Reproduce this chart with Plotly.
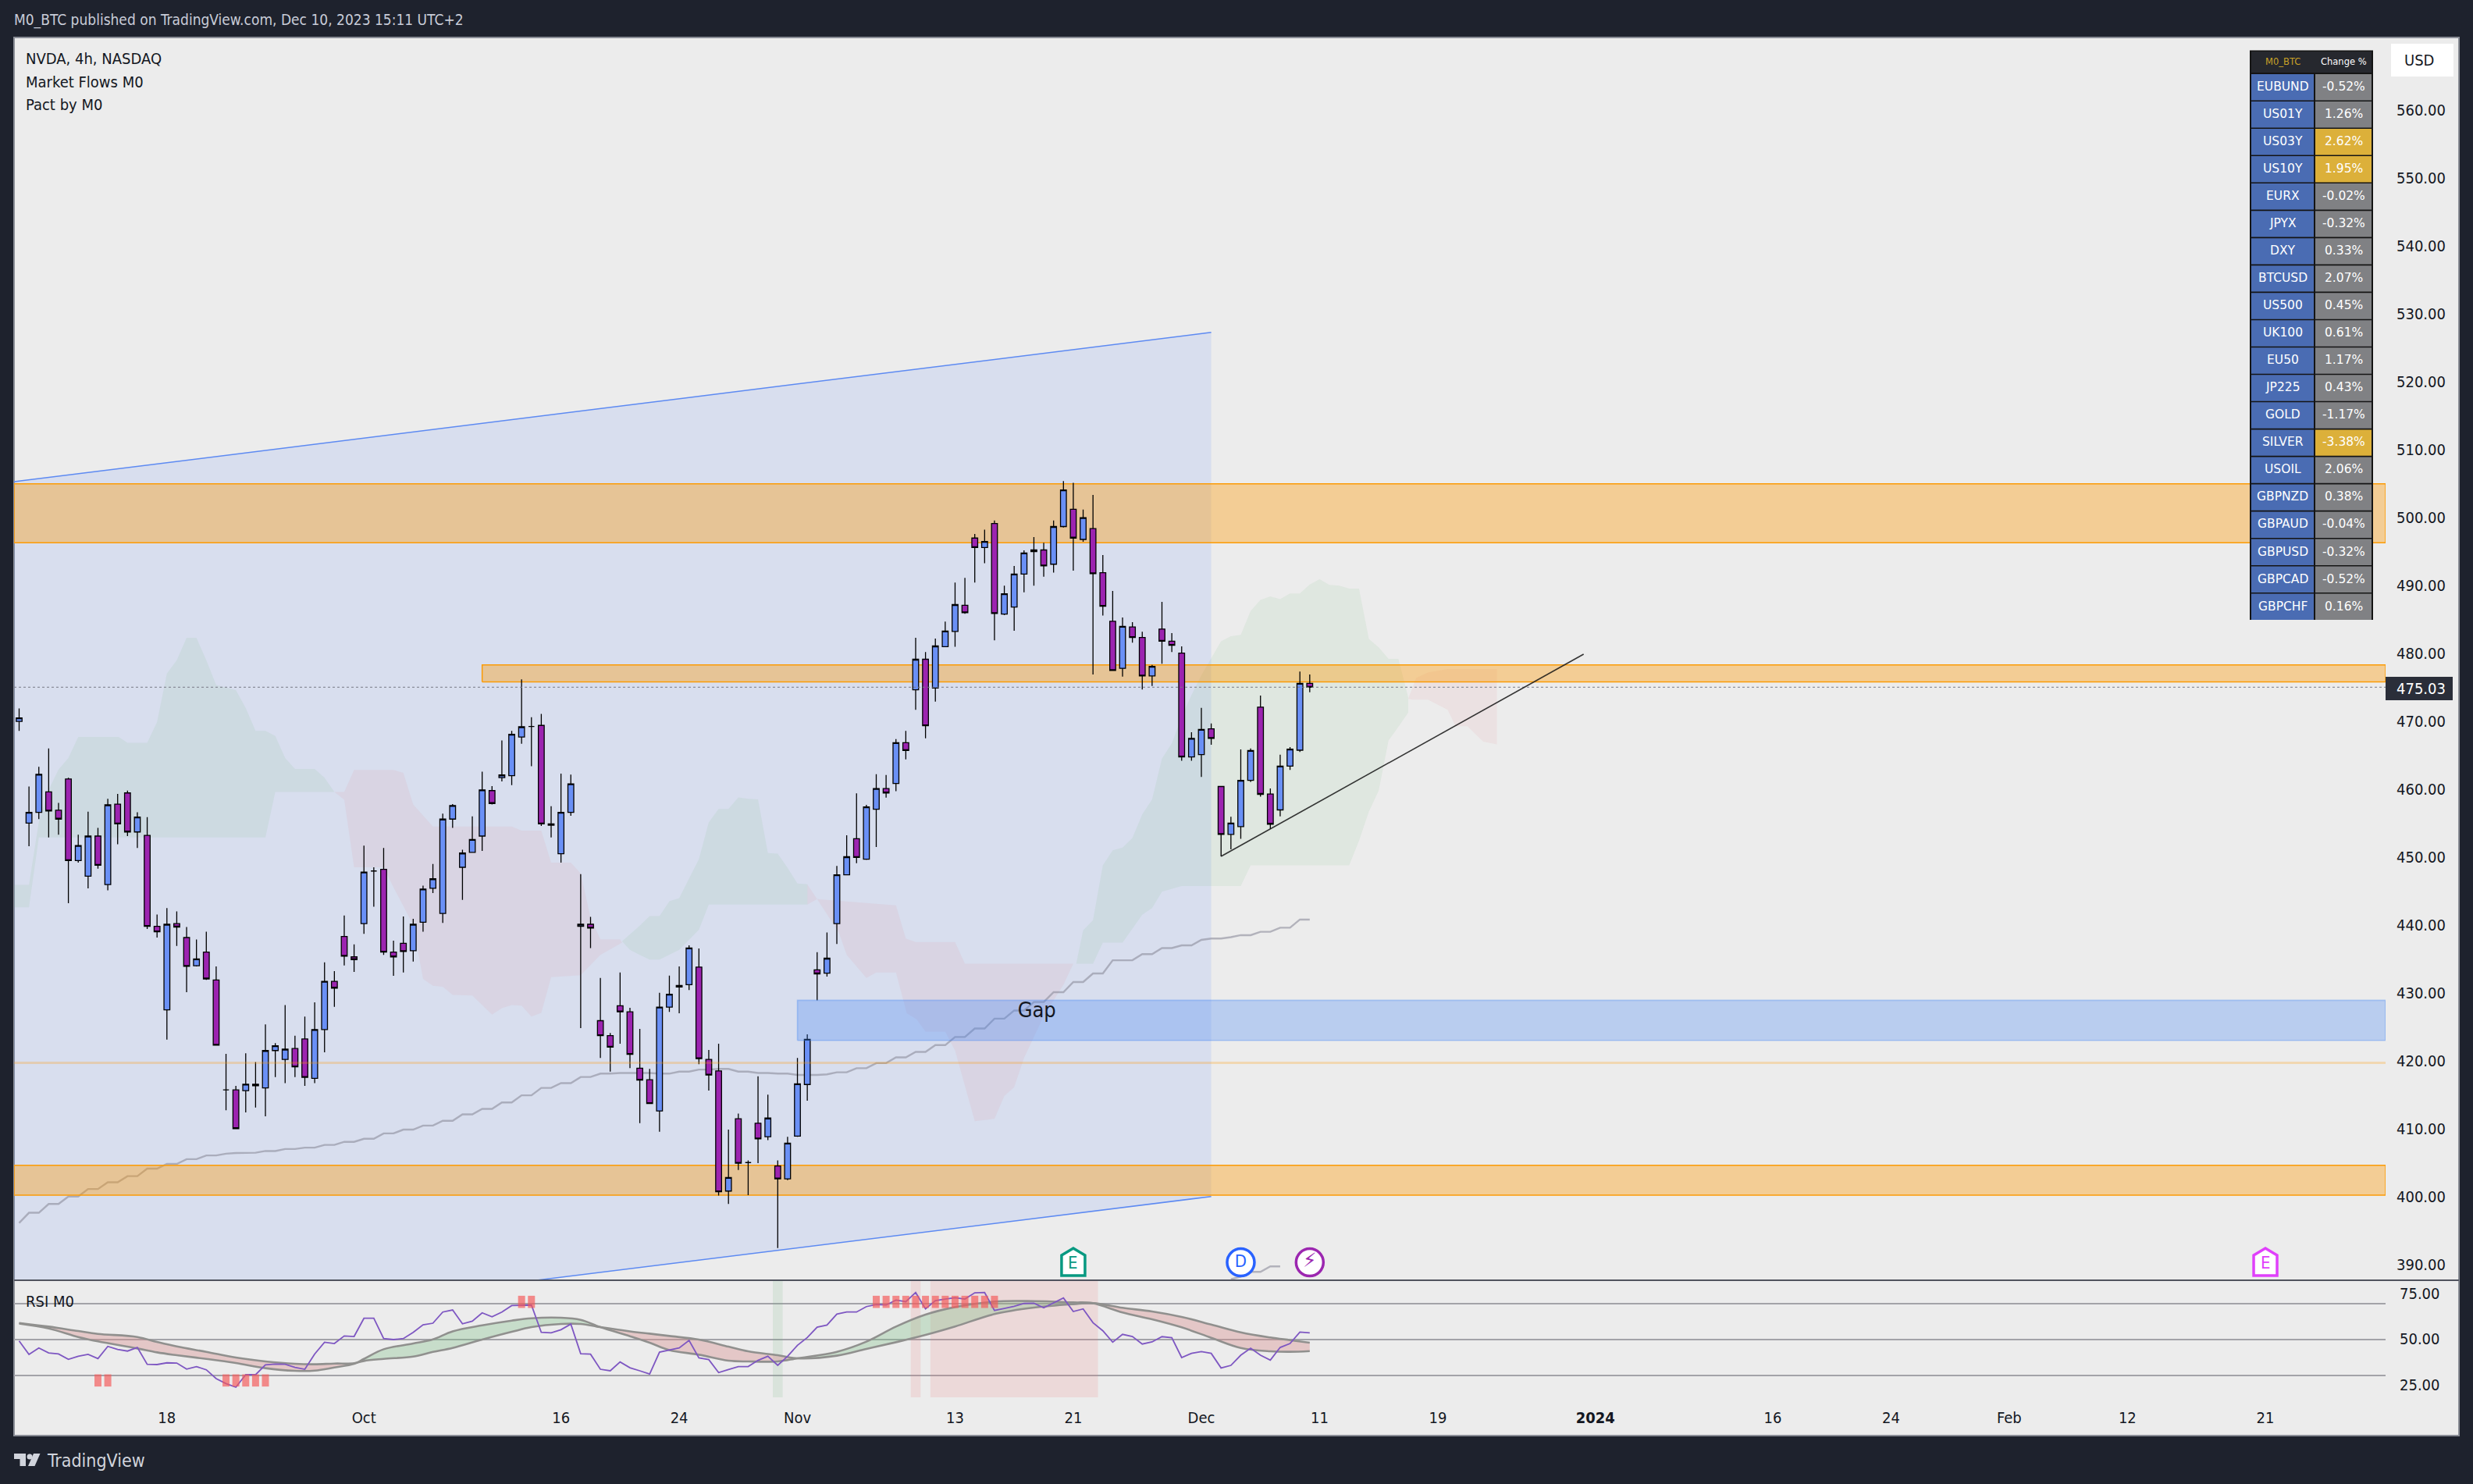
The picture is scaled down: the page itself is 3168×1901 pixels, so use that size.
import plotly.graph_objects as go

W, H = 3168, 1901
def px(v): return v / W
def py(v): return 1 - v / H

FONT = "DejaVu Sans Condensed, DejaVu Sans"
INK = "#131722"

# ---------- data ----------
bars = list(range(1, 133))
opens = [470.0,455.0,456.6,459.6,456.9,461.5,449.5,447.2,453.1,445.95,457.8,459.45,453.7,453.2,439.8,427.5,440.2,438.15,434.0,436.0,
         431.9,415.7,415.7,415.6,416.55,416.0,421.5,420.2,421.8,423.2,417.4,424.6,431.7,438.3,435.3,440.2,447.95,448.2,436.0,437.3,
         436.2,440.4,445.4,441.7,455.6,448.5,450.7,453.1,459.8,461.7,462.0,467.7,469.25,469.4,454.9,450.5,456.6,439.8,440.1,
         425.9,423.7,428.1,427.2,418.9,417.2,412.6,427.9,430.85,431.2,433.8,420.2,418.5,400.8,411.45,405.0,410.8,408.8,404.5,402.6,408.9,
         416.5,433.4,432.9,440.2,447.4,452.7,
         449.7,457.05,460.1,460.85,466.85,474.65,479.15,474.9,481.0,483.25,487.1,497.0,495.6,499.15,485.8,486.85,491.7,495.0,495.25,493.15,
         498.7,501.25,496.8,498.4,491.9,484.75,477.8,483.9,482.35,476.7,483.6,481.8,480.05,464.75,465.1,468.9,460.4,453.35,454.5,461.3,
         472.1,459.3,456.95,463.4,465.75,475.6]
highs = [471.9,460.4,463.3,466.0,458.0,461.7,453.3,456.7,454.3,458.6,459.3,459.8,456.6,455.9,441.55,442.5,442.0,439.7,437.85,439.0,
         433.9,421.0,416.3,421.1,419.8,425.35,422.6,428.2,423.7,426.5,428.6,434.5,433.2,441.4,437.15,451.7,448.5,451.35,437.7,441.25,
         440.9,445.8,449.0,456.4,457.8,451.1,456.0,462.6,460.45,467.2,468.6,476.2,470.6,471.1,457.5,462.3,462.15,447.5,441.2,
         432.2,424.1,433.0,427.8,424.7,418.8,430.0,432.55,433.9,437.0,436.55,421.6,422.5,409.85,412.2,405.3,417.7,415.0,405.3,408.8,420.4,
         423.9,436.0,438.9,448.7,453.2,459.4,
         457.7,462.2,462.1,467.4,468.6,482.3,480.2,482.2,484.7,490.45,491.15,497.6,498.25,499.6,490.0,492.9,495.2,497.15,496.3,499.6,
         505.4,505.15,501.2,503.35,494.5,489.2,485.3,484.6,483.2,478.3,487.6,483.0,481.05,468.4,472.0,469.7,460.5,455.95,465.85,466.0,
         473.8,460.1,465.1,466.2,477.35,476.9]
lows = [468.6,451.6,455.6,452.9,453.3,443.2,449.2,445.4,448.3,445.1,451.9,453.1,451.35,439.4,438.15,423.1,436.9,430.1,433.9,431.9,
        422.3,412.7,409.9,412.4,413.1,411.8,417.6,416.7,417.6,416.3,416.7,421.25,427.95,434.05,433.1,438.7,442.7,435.6,432.5,433.0,
        434.6,439.0,444.7,440.3,454.3,443.7,450.7,450.9,457.75,461.15,460.6,466.7,463.4,454.6,452.9,449.2,456.1,424.8,436.6,
        420.4,418.4,422.5,418.9,410.8,413.65,409.55,427.2,427.0,430.4,419.5,415.6,400.15,398.9,403.9,400.2,404.9,408.3,392.4,402.4,408.8,
        414.1,428.9,432.4,437.2,447.4,449.1,
        449.6,451.5,458.75,459.7,464.4,471.7,467.5,472.9,481.0,481.0,485.85,490.45,493.3,481.95,485.65,483.35,489.0,490.0,491.3,491.9,
        498.55,492.2,496.45,476.9,485.6,477.5,476.6,481.6,474.7,475.2,478.5,480.2,464.2,464.2,461.8,466.55,450.1,451.15,452.7,461.05,
        458.9,454.15,456.0,462.85,465.5,474.3]
closes = [470.5,456.6,462.2,456.8,455.6,449.5,451.7,453.1,448.8,457.7,454.9,453.7,455.9,439.8,439.0,440.1,439.7,433.9,435.0,432.05,
          422.3,415.7,410.0,416.55,416.3,421.5,422.2,421.7,419.1,417.55,424.6,431.7,430.7,435.4,434.9,447.8,447.95,436.0,435.3,436.1,
          440.1,445.3,446.8,455.6,457.6,450.6,452.6,459.9,457.9,462.1,468.1,469.2,469.25,454.9,454.7,456.6,460.8,440.1,439.55,
          423.7,422.0,427.2,420.95,417.15,413.7,427.9,429.8,431.1,436.6,420.3,417.9,400.7,402.8,404.9,405.0,408.5,411.55,402.6,407.85,416.6,
          423.15,432.8,435.1,447.4,450.05,449.95,
          457.4,460.1,459.45,466.85,465.7,479.15,469.35,481.1,483.3,487.2,486.0,495.6,496.5,485.9,488.8,491.7,494.8,495.25,492.9,498.7,
          504.1,497.0,500.0,491.75,486.95,477.5,484.0,482.35,476.7,478.1,481.8,481.2,464.75,467.5,468.8,467.5,453.35,455.0,461.3,465.7,
          459.25,454.85,463.4,465.9,475.6,475.03]
sma_long = [396.1,397.6,397.6,398.9,398.9,400,400,401.1,401.1,402.1,402.1,403,403,404.1,404.1,404.8,404.8,405.5,405.5,406.05,
            406.05,406.3,406.4,406.45,406.45,406.7,406.7,407,407,407.2,407.2,407.6,407.6,408.05,408.05,408.5,408.5,409.3,409.3,409.85,
            409.85,410.45,410.45,411.15,411.15,412.1,412.1,412.9,412.9,413.85,413.85,414.9,414.9,416,416,416.7,416.7,417.6,417.6,
            418.1,418.1,418.2,418.2,418.2,418.2,418.1,418.1,418.4,418.4,418.7,418.7,418.8,418.8,418.4,418.4,418.2,418.2,418.1,418.1,417.9,
            417.9,417.9,418.0,418.3,418.3,418.9,418.9,419.65,419.65,420.5,420.5,421.3,421.3,422.3,422.3,423.5,423.5,424.75,424.75,426.2,
            426.2,427.4,427.4,428.65,428.65,430.1,430.1,431.6,431.6,432.85,432.85,434.8,434.8,434.8,435.7,435.7,436.6,436.6,437,437,
            437.8,438,438,438.2,438.5,438.5,439,439,439.6,439.6,440.8,440.8]
sma_low_x = [124, 125, 126, 127, 128, 129]
sma_low_y = [387.8, 388.2, 388.9, 388.9, 389.7, 389.7]

price_ticks = list(range(390, 570, 10))
date_ticks = [16, 36, 56, 68, 80, 96, 108, 121, 133, 145, 161, 179, 191, 203, 215, 229]
date_labels = ["18", "Oct", "16", "24", "Nov", "13", "21", "Dec", "11", "19", "<b>2024</b>", "16", "24", "Feb", "12", "21"]

channel_x = [0.485, 122]
channel_top = [505.3, 527.3]
channel_bottom = [378.1, 400.0]
trend_x = [123, 159.8]
trend_y = [450.1, 479.9]

cloud_green_1 = [(0.485,445.9),(2,445.9),(3,455.2),(4,459.9),(5,462.9),(6,464.6),(7,467.7),(11.1,467.7),(12,466.85),(14,466.85),(15,469.9),(16,477.05),
                 (17,479),(18,482.3),(19,482.3),(20,479),(21,475.35),(23,474.6),(24,471.95),(25,468.6),(26,468.6),(27,467.85),(28,464.6),(29,463),
                 (31,463),(32,461.7),(33,459.6),(27,459.6),(26,452.9),(3,452.9),(2,442.6),(0.485,442.6)]
cloud_pink_1 = [(33,459.6),(34,459.6),(35,462.85),(39,462.85),(40,462.4),(41,457.75),(43,454.5),(51,454.5),(52,453.9),(54,453.9),(55,449.2),(57,449.2),
                (58,447.6),(59,441.1),(60,437.9),(62,437.9),(62.2,437.4),(60,435.6),(58,432.6),(55,432.3),(54,427.05),(53,426.5),(52,428.1),(51,428.2),
                (50,427.75),(49,426.8),(47,429.6),(45,429.7),(44,430.9),(43,431.05),(42,432.05),(41,440),(39,445.55),(38,448.5),(35,448.5),(34,458.45)]
cloud_green_2 = [(62.2,437.6),(64,439.9),(65,441.3),(66,441.3),(67,443.5),(68,443.95),(70,449.7),(71,455.1),(72,457.1),(73,457.1),(74,458.8),(75,458.6),
                 (76,458.5),(77,450.6),(78,450.5),(79,448.4),(80,446.1),(81,446),(81,443),(71,443),(70,439.3),(68,436.35),(66,434.9),(65,434.9),(64,435.6),(63,436.35)]
cloud_pink_2 = [(81,446),(82,443.8),(90,442.9),(91,438),(92,437.5),(96,437.5),(97,434.3),(108,434.3),(107,431.2),(105,426.6),(103,420.4),(102,416.1),
                (101,414.8),(100,411.45),(98,411.1),(96,421.5),(95,424.3),(93,424.3),(92.1,426.1),(91.1,427),(90,433),(88,433),(87,432.2),(85,435.6),(84.2,438.9),(82,443.8),(81,443)]
cloud_green_3 = [(108.3,434.3),(109,439.2),(110,440.7),(111,448.8),(112,451),(113,451.4),(114,452.8),(115,456.3),(116,458.5),(117,464.5),(118,466.75),
                 (119,470.65),(120,473.9),(121,476.8),(122,479.3),(123,481.8),(124,482.55),(125,482.75),(126,486.25),(127,487.9),(128,488.4),(129,488),
                 (130,488.85),(131,488.85),(132,490.15),(133,490.95),(134,490.1),(135,490),(136,489.55),(137,489.55),(138,482.15),(139,480.9),(140,479.2),
                 (141,479.2),(142,473.5),(142,471.3),(141,469.2),(140,467.2),(139,459.8),(138,456.7),(137,452.4),(136,448.8),(126,448.8),(125,445.75),
                 (119,445.75),(117,444.9),(116,442.5),(115,441.5),(113,437.4),(111,437.4),(110,434.3)]
cloud_pink_3 = [(142,473.3),(142.8,476.4),(144,477.2),(146,477.7),(151,477.7),(151,466.6),(149.6,467),(148,469.3),(146.8,469.3),(146,471.7),(144,473.2),(142.4,473.2)]

zone_starts = [0.485, 48, 0.485]
zone_lows = [496.3, 475.8, 400.2]
zone_highs = [505.0, 478.3, 404.6]
gap_start, gap_low, gap_high = 80, 423.0, 428.9
level_420 = 419.7
last_price = 475.03

rsi = [49.1,39.8,44.25,40.85,40.1,36.35,38.5,39.8,36.9,45.3,43.2,42.1,44.6,33,32.8,34,33.85,29.7,31.35,29.2,
       23.1,19.7,17.2,25.8,25.8,32.6,33.15,33,30.8,29.55,40.1,48.2,47.3,52.5,52.15,64.7,64.7,50.7,50,50.7,
       55,60.2,61.3,69,70.4,60.9,62.7,68.45,65.75,69,73.45,73.8,73.8,55,54.65,56.8,60.7,40.3,39.95,29.55,
       28.5,34.6,30.6,28.5,26.3,41.4,43,44.25,49.45,37.45,36.2,27.25,29.4,31.4,31.4,35.7,38.5,32.25,38.5,46.05,
       51.45,58.6,60.05,67.6,69,69,72.75,74.2,73.85,77.25,76.15,82.45,71.15,76.9,77.95,78.85,77.95,82.25,82.45,70.05,
       71.5,72.95,74.9,75.1,71.9,75.25,78.7,69.35,71.15,61.65,56.1,48.2,53.6,52.15,46.95,48.4,52,51.25,37.65,40.5,
       41.75,40.5,30.45,32.25,39.25,44.1,39.25,35.85,44.6,47.3,55.2,54.65]
ma_x = [1,4,7,9,13,15,17,20,23,26,29,31,33,35,36,38,41,43,45,48,51,53,56,58,60,63,65,67,70,73,75,78,80,84,87,90,93,96,100,104,108,110,113,116,119,122,125,128,130,132]
ma_fast = [61.1,57.7,51.8,48.75,43.9,41.2,39.25,36.7,33.85,30.3,28.5,28.65,30.8,33.3,36.7,43.35,47.3,50.15,55.7,59.85,63.1,64.7,65.05,63.6,58.6,52.3,47.85,42.8,39.6,35.45,34.95,34.95,37.1,41.6,48.6,58.95,67.2,72.4,76.2,76.5,75.65,75.1,68.65,64,58.45,51.25,44.25,41.95,41.6,42.1]
ma_slow = [61.45,58.95,55.9,53.95,51.8,48.4,45.3,41.55,37.6,34.95,33.3,33,33.5,33.7,35.3,36.7,38.35,41.55,44.25,50,55.35,58.6,60.75,60.75,58.6,55.7,54.1,52.5,50,45.15,41.9,39.25,37.1,38.9,43.55,48.2,53.2,59,67.6,72.05,74.4,75.1,71.9,69.35,65.6,60.4,55,51.45,49.65,47.85]
phase_bounds = [(1,35,"pink"),(35,60,"green"),(60,80,"pink"),(80,110,"green"),(110,132,"pink")]
alert_green_x, alert_green_w = [78], [1]
alert_red_x, alert_red_w = [92, 102], [1, 17]
sig_low_x = [9, 10, 22, 23, 24, 25, 26]
sig_high_x = [52, 53, 88, 89, 90, 91, 92, 93, 94, 95, 96, 97, 98, 99, 100]
sig_low_level, sig_high_level = 21.85, 76.0

tbl_header = ["M0_BTC", "Change %"]
tbl_symbols = ["EUBUND","US01Y","US03Y","US10Y","EURX","JPYX","DXY","BTCUSD","US500","UK100","EU50","JP225","GOLD","SILVER","USOIL","GBPNZD","GBPAUD","GBPUSD","GBPCAD","GBPCHF"]
tbl_changes = ["-0.52%","1.26%","2.62%","1.95%","-0.02%","-0.32%","0.33%","2.07%","0.45%","0.61%","1.17%","0.43%","-1.17%","-3.38%","2.06%","0.38%","-0.04%","-0.32%","-0.52%","0.16%"]
tbl_hot = ["US03Y", "US10Y", "SILVER"]
event_y = 390.3
event_e_x, event_d_x, event_s_x, event_f_x = 108, 125, 132, 229

# ---------- axes config ----------
XR = [0.485, 241.2]
YR = [387.66, 570.75]
RR = [10.2, 90.9]
ORANGE, ORANGE_F = "#fb9b06", "rgba(255,152,0,0.37)"
GREEN_C, PINK_C = "rgba(106,186,116,0.10)", "rgba(222,130,140,0.10)"

fig = go.Figure()

def poly(points, fill, yaxis="y", line=None):
    fig.add_trace(go.Scatter(x=[p[0] for p in points] + [points[0][0]], y=[p[1] for p in points] + [points[0][1]],
                             mode="lines", fill="toself", fillcolor=fill, yaxis=yaxis,
                             line=dict(width=0) if line is None else line, hoverinfo="skip", showlegend=False))

# base layer: channel, clouds, long averages, zones
poly([(channel_x[0], channel_top[0]), (channel_x[1], channel_top[1]), (channel_x[1], channel_bottom[1]), (channel_x[0], channel_bottom[0])], "rgba(41,98,255,0.10)")
for c in (cloud_green_1, cloud_green_2, cloud_green_3):
    poly(c, GREEN_C)
for c in (cloud_pink_1, cloud_pink_2, cloud_pink_3):
    poly(c, PINK_C)
for yy in (channel_top, channel_bottom):
    fig.add_trace(go.Scatter(x=channel_x, y=yy, mode="lines", line=dict(color="#5d8af2", width=1.5), hoverinfo="skip", showlegend=False))
fig.add_trace(go.Scatter(x=bars, y=sma_long, mode="lines", line=dict(color="rgba(140,140,155,0.6)", width=2.4), hoverinfo="skip", showlegend=False))
fig.add_trace(go.Scatter(x=sma_low_x, y=sma_low_y, mode="lines", line=dict(color="rgba(140,140,155,0.6)", width=2.4), hoverinfo="skip", showlegend=False))
for s, lo, hi in zip(zone_starts, zone_lows, zone_highs):
    poly([(s, lo), (XR[1], lo), (XR[1], hi), (s, hi)], ORANGE_F, "y", dict(color=ORANGE, width=1.5))

# candles
fig.add_trace(go.Candlestick(x=bars, open=opens, high=highs, low=lows, close=closes, yaxis="y3", whiskerwidth=0,
                             increasing=dict(fillcolor="#6a90f6", line=dict(color="#000000", width=1.3)),
                             decreasing=dict(fillcolor="#9c24b0", line=dict(color="#000000", width=1.3)),
                             hoverinfo="skip", showlegend=False))

# overlays above candles
poly([(gap_start, gap_low), (XR[1], gap_low), (XR[1], gap_high), (gap_start, gap_high)], "rgba(66,133,244,0.30)", "y4", dict(color="rgba(66,133,244,0.35)", width=1.6))
fig.add_trace(go.Scatter(x=XR, y=[level_420, level_420], mode="lines", yaxis="y4", line=dict(color="rgba(255,152,0,0.25)", width=3), hoverinfo="skip", showlegend=False))
fig.add_trace(go.Scatter(x=XR, y=[last_price, last_price], mode="lines", yaxis="y4", line=dict(color="#787b86", width=1, dash="dot"), hoverinfo="skip", showlegend=False))
fig.add_trace(go.Scatter(x=trend_x, y=trend_y, mode="lines", yaxis="y4", line=dict(color="rgba(20,20,20,0.85)", width=1.6), hoverinfo="skip", showlegend=False))

# event icons
fig.add_trace(go.Scatter(x=[event_d_x], y=[event_y], mode="markers+text", yaxis="y4", text=["D"], textposition="middle center",
                         textfont=dict(family=FONT, size=22, color="#2962ff"),
                         marker=dict(size=35, color="white", line=dict(color="#2962ff", width=3.5)), hoverinfo="skip", showlegend=False))
fig.add_trace(go.Scatter(x=[event_s_x], y=[event_y], mode="markers+text", yaxis="y4", text=["\u26a1"], textposition="middle center",
                         textfont=dict(family="DejaVu Sans", size=25, color="#9c27b0"),
                         marker=dict(size=35, color="white", line=dict(color="#9c27b0", width=3.5)), hoverinfo="skip", showlegend=False))
fig.add_trace(go.Scatter(x=[104.3], y=[427.2], mode="text", yaxis="y4", text=["Gap"], textposition="middle center",
                         textfont=dict(family=FONT, size=27, color=INK), hoverinfo="skip", showlegend=False))

# RSI pane
fig.add_trace(go.Bar(x=alert_green_x, width=alert_green_w, y=[RR[1]-RR[0]], base=RR[0], yaxis="y2", marker=dict(color="rgba(120,180,130,0.16)", line=dict(width=0)), hoverinfo="skip", showlegend=False))
fig.add_trace(go.Bar(x=alert_red_x, width=alert_red_w, y=[RR[1]-RR[0]]*2, base=RR[0], yaxis="y2", marker=dict(color="rgba(235,120,120,0.16)", line=dict(width=0)), hoverinfo="skip", showlegend=False))
for a, b, col in phase_bounds:
    idx = [k for k, v in enumerate(ma_x) if a <= v <= b]
    xs = [ma_x[k] for k in idx]
    pts = list(zip(xs, [ma_fast[k] for k in idx])) + list(zip(xs[::-1], [ma_slow[k] for k in idx][::-1]))
    poly(pts, "rgba(215,140,140,0.38)" if col == "pink" else "rgba(120,190,130,0.32)", "y2")
for series in (ma_fast, ma_slow):
    fig.add_trace(go.Scatter(x=ma_x, y=series, mode="lines", yaxis="y2", line=dict(color="#90908e", width=2.6, shape="spline"), hoverinfo="skip", showlegend=False))
fig.add_trace(go.Scatter(x=bars, y=rsi, mode="lines", yaxis="y2", line=dict(color="#7e57c2", width=1.8), hoverinfo="skip", showlegend=False))
for xs, lvl in ((sig_low_x, sig_low_level), (sig_high_x, sig_high_level)):
    fig.add_trace(go.Scatter(x=xs, y=[lvl]*len(xs), mode="markers", yaxis="y2",
                             marker=dict(size=1, color="rgba(245,90,90,0.01)"),
                             error_y=dict(type="constant", value=4.2, thickness=9, width=0, color="rgba(245,90,90,0.68)"),
                             hoverinfo="skip", showlegend=False))

def paper_rect(x0, y0, x1, y1, fill, **kw):
    return dict(type="rect", xref="paper", yref="paper", x0=px(x0), x1=px(x1), y0=py(y1), y1=py(y0), fillcolor=fill, line=dict(width=0), **kw)

shapes = [
    dict(type="rect", xref="paper", yref="paper", x0=px(18), x1=px(3150), y0=py(1839), y1=py(48), fillcolor="#ececec", line=dict(color="#8a8d96", width=2), layer="below"),
    dict(type="line", xref="paper", yref="paper", x0=px(18), x1=px(3150), y0=py(1640), y1=py(1640), line=dict(color="#50535e", width=2)),
    paper_rect(3063, 56, 3143, 98, "#ffffff"),       # USD box
    paper_rect(3056, 867, 3142, 897, "#2a2e39"),     # last price tag
    dict(type="path", xref="paper", yref="paper", path=f"M{px(18)},{py(1862)} L{px(33)},{py(1862)} L{px(33)},{py(1878)} L{px(25.5)},{py(1878)} L{px(25.5)},{py(1869)} L{px(18)},{py(1869)} Z", fillcolor="#d1d4dc", line=dict(width=0)),
    dict(type="circle", xref="paper", yref="paper", x0=px(34.5), x1=px(41.5), y0=py(1869.5), y1=py(1862.5), fillcolor="#d1d4dc", line=dict(width=0)),
    dict(type="path", xref="paper", yref="paper", path=f"M{px(43)},{py(1862)} L{px(51.5)},{py(1862)} L{px(44.5)},{py(1878)} L{px(36)},{py(1878)} Z", fillcolor="#d1d4dc", line=dict(width=0)),
]
for ex, col in ((event_e_x, "#089981"), (event_f_x, "#e040fb")):
    shapes.append(dict(type="path", xref="x", yref="y4", xsizemode="pixel", ysizemode="pixel", xanchor=ex, yanchor=event_y,
                       path="M-15,-17 L15,-17 L15,9 L0,18 L-15,9 Z", fillcolor="white", line=dict(color=col, width=3.5)))

def note(text, x, y, size=20, color=INK, anchor="left", family=FONT):
    return dict(text=text, x=px(x), y=py(y), xref="paper", yref="paper", xanchor=anchor, yanchor="middle",
                showarrow=False, font=dict(family=family, size=size, color=color))

annotations = [
    note("M0_BTC published on TradingView.com, Dec 10, 2023 15:11 UTC+2", 16, 26, 19, "#c8ccd8"),
    note("NVDA, 4h, NASDAQ", 31, 75),
    note("Market Flows M0", 31, 105),
    note("Pact by M0", 31, 134),
    note("RSI M0", 31, 1667),
    note("USD", 3099, 77, 20, INK, "center"),
    note("475.03", 3101, 882, 20, "#ffffff", "center"),
    note("75.00", 3100, 1657, 20, INK, "center"),
    note("50.00", 3100, 1715, 20, INK, "center"),
    note("25.00", 3100, 1774, 20, INK, "center"),
    note("TradingView", 58, 1871, 23, "#d1d4dc"),
]
for ex, col in ((event_e_x, "#089981"), (event_f_x, "#e040fb")):
    annotations.append(dict(text="E", x=ex, y=event_y, xref="x", yref="y4", showarrow=False, xanchor="center", yanchor="middle",
                            font=dict(family=FONT, size=22, color=col)))

# data table (cells drawn from the lists above)
shapes.append(paper_rect(2882, 64.5, 3040, 794, "#141414"))
shapes.append(paper_rect(2884, 66, 3038, 93, "#26282e"))
annotations.append(note(tbl_header[0], 2924, 79, 11.5, "#c9a227", "center", "DejaVu Sans"))
annotations.append(note(tbl_header[1], 3002, 79, 11.5, "#ffffff", "center", "DejaVu Sans"))
for row, (sym, chg) in enumerate(zip(tbl_symbols, tbl_changes)):
    top = 95 + 35.03 * row
    shapes.append(paper_rect(2884, top, 2964, top + 33.4, "#4a6cb3"))
    shapes.append(paper_rect(2966, top, 3038, top + 33.4, "#dcb03a" if sym in tbl_hot else "#808184"))
    annotations.append(note(sym, 2924, top + 16, 15.5, "#ffffff", "center", "DejaVu Sans"))
    annotations.append(note(chg, 3002, top + 16, 15.5, "#ffffff", "center", "DejaVu Sans"))

fig.update_layout(
    width=W, height=H, autosize=False, margin=dict(l=0, r=0, t=0, b=0),
    paper_bgcolor="#1e222d", plot_bgcolor="rgba(0,0,0,0)", showlegend=False, hovermode=False, barmode="overlay",
    boxgap=0.15, boxgroupgap=0.3,
    shapes=shapes, annotations=annotations,
    xaxis=dict(domain=[px(18), px(3056)], range=XR, anchor="y2", tickmode="array", tickvals=date_ticks, ticktext=date_labels,
               showgrid=False, zeroline=False, showline=False, ticks="outside", ticklen=8, tickcolor="rgba(0,0,0,0)",
               tickangle=0, tickfont=dict(family=FONT, size=20, color=INK), rangeslider=dict(visible=False), fixedrange=True),
    yaxis=dict(domain=[py(1640), py(48)], range=YR, anchor="x", side="right", tickmode="array", tickvals=price_ticks, tickformat=".2f",
               showgrid=False, zeroline=False, showline=False, ticks="outside", ticklen=9, tickcolor="rgba(0,0,0,0)",
               tickfont=dict(family=FONT, size=20, color=INK), fixedrange=True),
    yaxis2=dict(domain=[py(1790), py(1640)], range=RR, anchor="x", side="right", tickmode="array", tickvals=[25, 50, 75],
                showticklabels=False, showgrid=True, gridcolor="#a3a3a8", gridwidth=1.6, zeroline=False, showline=False, fixedrange=True),
    yaxis3=dict(overlaying="y", range=YR, anchor="x", side="right", visible=False, fixedrange=True),
    yaxis4=dict(overlaying="y", range=YR, anchor="x", side="right", visible=False, fixedrange=True),
)

fig.write_html("out.html", config=dict(displayModeBar=False, responsive=False),
               post_script="document.body.style.margin='0';document.body.style.background='#1e222d';")
